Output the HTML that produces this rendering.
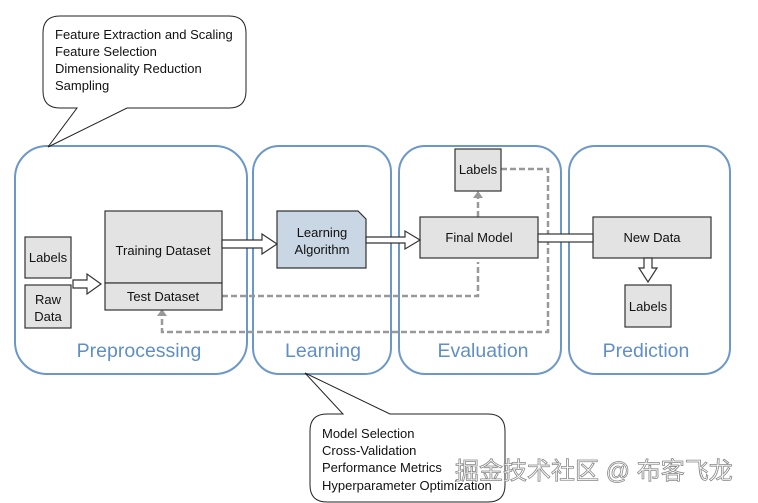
<!DOCTYPE html>
<html><head><meta charset="utf-8"><style>
body{margin:0;background:#fff;}
svg{display:block;font-family:"Liberation Sans","Noto Sans CJK SC",sans-serif;}
</style></head><body>
<svg width="758" height="503" viewBox="0 0 758 503">
<!-- containers -->
<g fill="none" stroke="#6b97c9" stroke-width="2">
<rect x="15" y="146" width="232" height="228" rx="32"/>
<rect x="253" y="146" width="138" height="228" rx="26"/>
<rect x="399" y="146" width="162" height="228" rx="26"/>
<rect x="569" y="146" width="161" height="228" rx="26"/>
</g>
<g fill="#5f8fc6" font-size="19.5" text-anchor="middle">
<text x="139" y="357">Preprocessing</text>
<text x="323" y="357">Learning</text>
<text x="483" y="357">Evaluation</text>
<text x="646" y="357">Prediction</text>
</g>
<!-- callouts -->
<path d="M60,16 H229 Q246,16 246,33 V91 Q246,108 229,108 H127 L48,147 L77,108 H60 Q43,108 43,91 V33 Q43,16 60,16 Z" fill="#fff" stroke="#222" stroke-width="1"/>
<g font-size="13" fill="#111">
<text x="55" y="39">Feature Extraction and Scaling</text>
<text x="55" y="56">Feature Selection</text>
<text x="55" y="73">Dimensionality Reduction</text>
<text x="55" y="90">Sampling</text>
</g>
<path d="M327,414 H343 L305,373 L390,414 H488 Q505,414 505,431 V485 Q505,502 488,502 H327 Q310,502 310,485 V431 Q310,414 327,414 Z" fill="#fff" stroke="#222" stroke-width="1"/>
<g font-size="13" fill="#111">
<text x="322" y="438">Model Selection</text>
<text x="322" y="455">Cross-Validation</text>
<text x="322" y="472">Performance Metrics</text>
<text x="322" y="490">Hyperparameter Optimization</text>
</g>
<!-- dashed -->
<g fill="none" stroke="#999" stroke-width="2.5" stroke-dasharray="6,3">
<path d="M222,296 H478 V262"/>
<path d="M501,169 H548 V332 H162 V314"/>
<path d="M478,217 V196"/>
</g>
<path d="M157,316 L162,309 L167,316 Z" fill="#999"/>
<path d="M473,198 L478,191 L483,198 Z" fill="#999"/>
<!-- boxes -->
<g fill="#e3e3e3" stroke="#333" stroke-width="1.2">
<rect x="25" y="237" width="46" height="41"/>
<rect x="25" y="285" width="46" height="43"/>
<rect x="105" y="211" width="117" height="72"/>
<rect x="105" y="283" width="117" height="27"/>
<rect x="420" y="217" width="118" height="41"/>
<rect x="455" y="149" width="46" height="42"/>
<rect x="593" y="217" width="118" height="41"/>
<rect x="625" y="285" width="46" height="42"/>
</g>
<path d="M277,211 H358 L366,219 V268 H277 Z" fill="#c9d6e3" stroke="#333" stroke-width="1.2"/>
<!-- arrows -->
<g fill="#fff" stroke="#333" stroke-width="1.2">
<path d="M73,280 H87 V274 L101,284 L87,294 V288 H73 Z"/>
<path d="M222,240 H262 V234 L277,244 L262,254 V248 H222 Z"/>
<path d="M366,237 H405 V231 L420,240 L405,249 V243 H366 Z"/>
<rect x="538" y="234" width="55" height="8"/>
<path d="M644,258 H652 V268 H657 L648,282 L639,268 H644 Z"/>
</g>
<g font-size="13" fill="#111" text-anchor="middle">
<text x="48" y="262">Labels</text>
<text x="48" y="304">Raw</text>
<text x="48" y="321">Data</text>
<text x="163" y="255">Training Dataset</text>
<text x="163" y="301">Test Dataset</text>
<text x="322" y="237">Learning</text>
<text x="322" y="254">Algorithm</text>
<text x="479" y="242">Final Model</text>
<text x="478" y="174">Labels</text>
<text x="652" y="242">New Data</text>
<text x="648" y="311">Labels</text>
</g>
<text x="455" y="479" font-size="24" fill="#fff" stroke="#888" stroke-width="0.8">掘金技术社区 @ 布客飞龙</text>
</svg>
</body></html>
